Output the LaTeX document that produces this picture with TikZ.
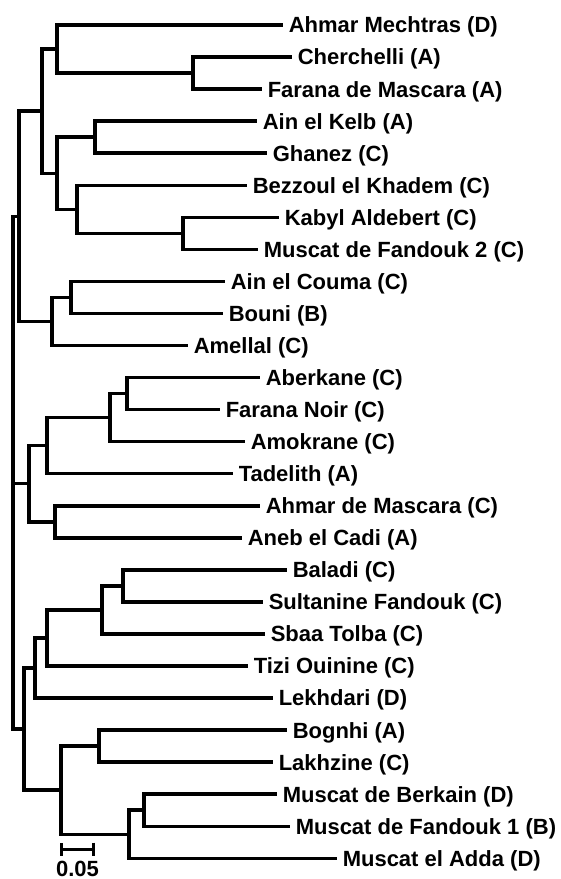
\documentclass[tikz,border=0pt]{standalone}
\usepackage{fontspec}
\setmainfont{Liberation Sans}
\usetikzlibrary{arrows.meta}

\begin{document}
\begin{tikzpicture}[x=1pt, y=-1pt, line width=3.5pt]
    \useasboundingbox (0,0) rectangle (561,879);
    \begin{scope}[every node/.style={anchor=west, inner xsep=4pt, inner ysep=0pt, text height=15.8pt, text depth=0pt, font=\fontsize{22}{24}\selectfont\bfseries}]
        \node(1) at (283,25.0) {Ahmar Mechtras (D)};
        \node(2) at (292,57.05) {Cherchelli (A)};
        \node(3) at (262,89.1) {Farana de Mascara (A)};
        \node(4) at (257,121.15) {Ain el Kelb (A)};
        \node(5) at (267,153.2) {Ghanez (C)};
        \node(6) at (247,185.25) {Bezzoul el Khadem (C)};
        \node(7) at (279,217.3) {Kabyl Aldebert (C)};
        \node(8) at (258,249.35) {Muscat de Fandouk 2 (C)};
        \node(9) at (225,281.4) {Ain el Couma (C)};
        \node(10) at (223,313.45) {Bouni (B)};
        \node(11) at (188,345.5) {Amellal (C)};
        \node(12) at (260,377.55) {Aberkane (C)};
        \node(13) at (220,409.6) {Farana Noir (C)};
        \node(14) at (245,441.65) {Amokrane (C)};
        \node(15) at (233,473.7) {Tadelith (A)};
        \node(16) at (260,505.75) {Ahmar de Mascara (C)};
        \node(17) at (242,537.8) {Aneb el Cadi (A)};
        \node(18) at (287,569.85) {Baladi (C)};
        \node(19) at (263,601.9) {Sultanine Fandouk (C)};
        \node(20) at (265,633.95) {Sbaa Tolba (C)};
        \node(21) at (248,666.0) {Tizi Ouinine (C)};
        \node(22) at (273,698.05) {Lekhdari (D)};
        \node(23) at (287,730.1) {Bognhi (A)};
        \node(24) at (273,762.15) {Lakhzine (C)};
        \node(25) at (277,794.2) {Muscat de Berkain (D)};
        \node(26) at (290,826.25) {Muscat de Fandouk 1 (B)};
        \node(27) at (337,858.3) {Muscat el Adda (D)};
        \node[anchor=north, inner xsep=0pt](scale) at (77.5,858.5) {0.05};
    \end{scope}
    \coordinate (a) at (193,73.1);
    \coordinate (b) at (57,49);
    \coordinate (c) at (95,137.2);
    \coordinate (d) at (183,233.3);
    \coordinate (e) at (77,209.3);
    \coordinate (f) at (57,173.3);
    \coordinate (g) at (42,111.2);
    \coordinate (h) at (71,297.4);
    \coordinate (i) at (52,321.5);
    \coordinate (j) at (19,216.3);
    \coordinate (k) at (127,393.6);
    \coordinate (m) at (110,417.6);
    \coordinate (n) at (47,445.7);
    \coordinate (o) at (55,521.8);
    \coordinate (p) at (29,483.7);
    \coordinate (q) at (123,585.9);
    \coordinate (r) at (102,609.9);
    \coordinate (s) at (47,638);
    \coordinate (t) at (35,668);
    \coordinate (u) at (99,746.1);
    \coordinate (v) at (144,810.2);
    \coordinate (w) at (129,834.3);
    \coordinate (x) at (61,790.2);
    \coordinate (y) at (24,729.1);
    \coordinate (root) at (13,484);
    \draw (a) |- (2.west);
    \draw (a) |- (3.west);
    \draw (b) |- (1.west);
    \draw (b) |- (a);
    \draw (c) |- (4.west);
    \draw (c) |- (5.west);
    \draw (d) |- (7.west);
    \draw (d) |- (8.west);
    \draw (e) |- (6.west);
    \draw (e) |- (d);
    \draw (f) |- (c);
    \draw (f) |- (e);
    \draw (g) |- (b);
    \draw (g) |- (f);
    \draw (h) |- (9.west);
    \draw (h) |- (10.west);
    \draw (i) |- (h);
    \draw (i) |- (11.west);
    \draw (j) |- (g);
    \draw (j) |- (i);
    \draw (k) |- (12.west);
    \draw (k) |- (13.west);
    \draw (m) |- (k);
    \draw (m) |- (14.west);
    \draw (n) |- (m);
    \draw (n) |- (15.west);
    \draw (o) |- (16.west);
    \draw (o) |- (17.west);
    \draw (p) |- (n);
    \draw (p) |- (o);
    \draw (q) |- (18.west);
    \draw (q) |- (19.west);
    \draw (r) |- (q);
    \draw (r) |- (20.west);
    \draw (s) |- (r);
    \draw (s) |- (21.west);
    \draw (t) |- (s);
    \draw (t) |- (22.west);
    \draw (u) |- (23.west);
    \draw (u) |- (24.west);
    \draw (v) |- (25.west);
    \draw (v) |- (26.west);
    \draw (w) |- (v);
    \draw (w) |- (27.west);
    \draw (x) |- (u);
    \draw (x) |- (w);
    \draw (y) |- (t);
    \draw (y) |- (x);
    \draw (root) |- (j);
    \draw (root) |- (p);
    \draw (root) |- (y);
    \coordinate (s1) at (60,849);
    \coordinate (s2) at (95,849);
    \draw[line width=3pt, {Bar[width=13pt]}-{Bar[width=13pt]}] (s1) -- (s2);
\end{tikzpicture}
\end{document}
